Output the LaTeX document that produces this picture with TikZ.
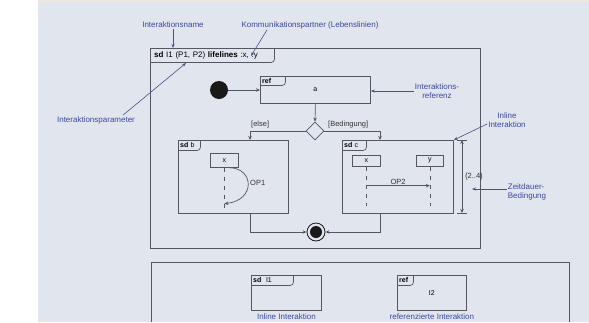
\documentclass[tikz,border=0pt]{standalone}
\usepackage{fontspec}
\setmainfont{Liberation Sans}
\usepackage{tikz}
\usetikzlibrary{arrows.meta, positioning, shapes.geometric}
\definecolor{bgpanel}{RGB}{225, 229, 238}
\definecolor{topstrip}{RGB}{240, 230, 222}
\definecolor{umlline}{RGB}{84, 86, 96}
\definecolor{notetext}{RGB}{58, 72, 160}
\definecolor{noteline}{RGB}{72, 82, 132}

\begin{document}
\begin{tikzpicture}[x=1pt, y=-1pt,
	frame/.style={draw=umlline, line width=0.8pt, anchor=north west, inner sep=0pt, font=\fontsize{7}{8}\selectfont},
	tabtext/.style={anchor=north west, text width=#1, align=left, inner xsep=2pt, inner ysep=1pt, minimum height=10pt, font=\fontsize{7}{8}\selectfont},
	tabline/.style={draw=umlline, line width=0.7pt, rounded corners=3pt},
	lifebox/.style={draw=umlline, line width=0.7pt, anchor=north west, inner sep=0pt, font=\fontsize{7}{8}\selectfont},
	lifeline/.style={draw=umlline, line width=0.6pt, dash pattern=on 4pt off 5pt},
	flow/.style={draw=umlline, line width=0.7pt, -{Stealth[length=4pt, width=3.5pt]}},
	pointer/.style={draw=noteline, line width=0.6pt, -{Stealth[length=4pt, width=3pt]}},
	note/.style={font=\fontsize{8}{9}\selectfont, text=notetext, inner sep=1pt},
	guard/.style={font=\fontsize{7.5}{8.5}\selectfont, text=black!80, inner sep=1pt},
	msgtext/.style={font=\fontsize{7.5}{8.5}\selectfont, text=black!80, inner sep=1pt},
	initial/.style={circle, fill=black!90, minimum size=18pt, inner sep=0pt},
	final/.style={circle, draw=black!90, line width=0.8pt, minimum size=18pt, inner sep=0pt,
		path picture={\fill[black!90] (path picture bounding box.center) circle (6pt);}},
	decision/.style={diamond, draw=umlline, line width=0.7pt, minimum size=18pt, inner sep=0pt}]

		\useasboundingbox (0,0) rectangle (589,322);
		\fill[bgpanel] (38,0) rectangle (589,322);
		\fill[topstrip] (38,0) rectangle (589,2);

		\node[frame, minimum width=330pt, minimum height=200pt] (outer) at (150,48) {};
		\node[tabtext=116pt, minimum height=14pt, inner xsep=4pt, font=\fontsize{8}{9}\selectfont] (outertab) at (outer.north west) {\textbf{sd} I1 (P1, P2) \textbf{lifelines} :x, :y};
		\draw[tabline] (outertab.south west) -- (outertab.south east) -- (outertab.north east);

		\node[note] (lname) at (173,25) {Interaktionsname};
		\node[note] (lpartner) at (310,25) {Kommunikationspartner (Lebenslinien)};
		\node[note] (lparam) at (96,120) {Interaktionsparameter};
		\coordinate (partnerref) at (251,56);
		\coordinate (paramref) at (186,63);
		\draw[pointer] (lname.south) -- (lname.south |- outer.north);
		\draw[pointer] ([xshift=-43pt]lpartner.south) -- (partnerref);
		\draw[pointer] ([xshift=-13pt]lparam.north east) -- (paramref);

		\node[frame, minimum width=110pt, minimum height=27pt] (refa) at (260,76) {a};
		\node[tabtext=21pt, minimum height=9pt] (refatab) at (refa.north west) {\textbf{ref}};
		\draw[tabline] (refatab.south west) -- (refatab.south east) -- (refatab.north east);

		\node[initial] (start) at (219,90) {};
		\draw[flow] (start) -- (start -| refa.west);
		\node[note, align=center] (lref) at (437,91) {Interaktions-\\referenz};
		\draw[pointer] (lref.west) -- (lref.west -| refa.east);

		\node[decision] (dia) at (315,131) {};
		\draw[flow] (refa.south) -- (dia.north);

		\node[frame, minimum width=110pt, minimum height=73pt] (sdb) at (178,140) {};
		\node[tabtext=18pt] (sdbtab) at (sdb.north west) {\textbf{sd} b};
		\draw[tabline] (sdbtab.south west) -- (sdbtab.south east) -- (sdbtab.north east);

		\node[frame, minimum width=111pt, minimum height=73pt] (sdc) at (342,140) {};
		\node[tabtext=20pt] (sdctab) at (sdc.north west) {\textbf{sd} c};
		\draw[tabline] (sdctab.south west) -- (sdctab.south east) -- (sdctab.north east);

		\draw[flow] (dia.west) -| ([xshift=72pt]sdb.north west);
		\draw[flow] (dia.east) -| ([xshift=38pt]sdc.north west);
		\node[guard, anchor=south west] (gelse) at (250,129) {[else]};
		\node[guard, anchor=south west] (gcond) at (327,129) {[Bedingung]};

		\node[final] (final) at (316,232) {};
		\draw[flow] ([xshift=72pt]sdb.south west) |- (final.west);
		\draw[flow] ([xshift=38pt]sdc.south west) |- (final.east);

		\node[lifebox, minimum width=28pt, minimum height=14pt] (bx) at (210,153) {x};
		\draw[lifeline] (bx.south) -- ++(0,43);
		\coordinate (op1end) at ([yshift=-36pt]bx.south);
		\draw[flow] ([xshift=5pt]bx.south) .. controls (254,168) and (256,200) .. (op1end);
		\node[msgtext, anchor=west] (op1) at (249,183) {OP1};

		\node[lifebox, minimum width=28pt, minimum height=11pt] (cx) at (352,155) {x};
		\node[lifebox, minimum width=27pt, minimum height=11pt] (cy) at (416,155) {y};
		\draw[lifeline] (cx.south) -- ++(0,39);
		\draw[lifeline] (cy.south) -- ++(0,39);
		\coordinate (op2start) at ([yshift=-19pt]cx.south);
		\draw[flow] (op2start) -- (op2start -| cy.south) node[midway, above, msgtext] (op2) {OP2};

		\coordinate (durtop) at (462,140);
		\coordinate (durbot) at (462,213);
		\draw[umlline, line width=0.7pt, {Stealth[length=4pt, width=3.5pt]}-{Stealth[length=4pt, width=3.5pt]}] (durtop) -- (durbot);
		\draw[umlline, line width=0.7pt] ([xshift=-5pt]durtop) -- ([xshift=5pt]durtop);
		\draw[umlline, line width=0.7pt] ([xshift=-5pt]durbot) -- ([xshift=5pt]durbot);
		\node[msgtext, anchor=west] (dur) at (464,177) {\{2..4\}};

		\node[note, align=center] (linline) at (507,120) {Inline\\Interaktion};
		\draw[pointer] ([yshift=-4pt]linline.west) -- (sdc.north east);
		\node[note, align=left] (lzeit) at (527,192) {Zeitdauer-\\Bedingung};
		\coordinate (durref) at (472,189);
		\draw[pointer] (lzeit.west |- durref) -- (durref);

		\draw[umlline, line width=0.8pt] (151,322) -- (151,262) -- (569,262) -- (569,322);

		\node[frame, minimum width=70pt, minimum height=35pt] (lowsd) at (251,275) {};
		\node[tabtext=38pt] (lowsdtab) at (lowsd.north west) {\textbf{sd}\ \ I1};
		\draw[tabline] (lowsdtab.south west) -- (lowsdtab.south east) -- (lowsdtab.north east);
		\node[note, below=2pt of lowsd] (lowsdnote) {Inline Interaktion};

		\node[frame, minimum width=69pt, minimum height=35pt] (lowref) at (397,275) {I2};
		\node[tabtext=12pt] (lowreftab) at (lowref.north west) {\textbf{ref}};
		\draw[tabline] (lowreftab.south west) -- (lowreftab.south east) -- (lowreftab.north east);
		\node[note, below=2pt of lowref] (lowrefnote) {referenzierte Interaktion};
	\end{tikzpicture}
\end{document}
